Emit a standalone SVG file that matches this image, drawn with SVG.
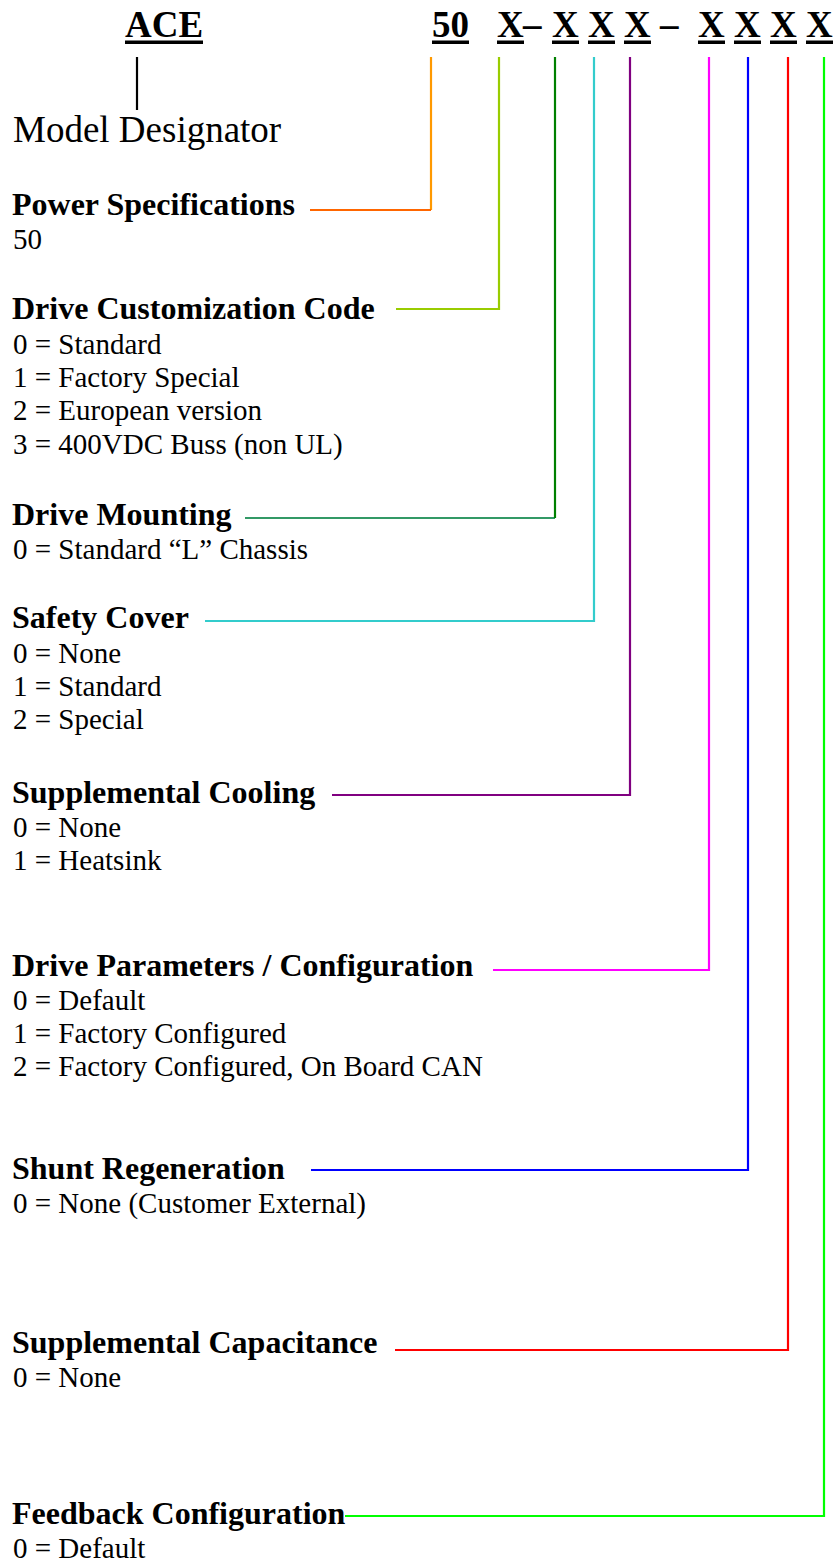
<svg xmlns="http://www.w3.org/2000/svg" width="837" height="1564" viewBox="0 0 837 1564">
<style>
.t{font-family:"Liberation Serif","Times New Roman",serif;font-weight:bold;font-size:37px;fill:#000}
.md{font-family:"Liberation Serif","Times New Roman",serif;font-size:37px;fill:#000}
.h{font-family:"Liberation Serif","Times New Roman",serif;font-weight:bold;font-size:32px;fill:#000}
.b{font-family:"Liberation Serif","Times New Roman",serif;font-size:29px;fill:#000}
.c{fill:none;stroke-width:2.2}
</style>
<rect width="837" height="1564" fill="#fff"/>
<g id="title">
<text class="t" x="125" y="37">ACE</text>
<rect x="125" y="40.5" width="78" height="3.5"/>
<text class="t" x="432" y="37">50</text>
<rect x="432" y="40.5" width="37" height="3.5"/>
<text class="t" x="497" y="37">X</text>
<rect x="497" y="40.5" width="27" height="3.5"/>
<text class="t" x="523" y="37">–</text>
<text class="t" x="552" y="37">X</text>
<rect x="552" y="40.5" width="27" height="3.5"/>
<text class="t" x="588" y="37">X</text>
<rect x="588" y="40.5" width="27" height="3.5"/>
<text class="t" x="624" y="37">X</text>
<rect x="624" y="40.5" width="27" height="3.5"/>
<text class="t" x="660" y="37">–</text>
<text class="t" x="698" y="37">X</text>
<rect x="698" y="40.5" width="27" height="3.5"/>
<text class="t" x="734" y="37">X</text>
<rect x="734" y="40.5" width="27" height="3.5"/>
<text class="t" x="770" y="37">X</text>
<rect x="770" y="40.5" width="27" height="3.5"/>
<text class="t" x="806" y="37">X</text>
<rect x="806" y="40.5" width="27" height="3.5"/>
</g>
<g id="model-designator">
<text class="md" x="13" y="142">Model Designator</text>
</g>
<g id="power">
<text class="h" x="12" y="215">Power Specifications</text>
<text class="b" x="13" y="249">50</text>
</g>
<g id="customization">
<text class="h" x="12" y="319">Drive Customization Code</text>
<text class="b" x="13" y="354">0 = Standard</text>
<text class="b" x="13" y="387">1 = Factory Special</text>
<text class="b" x="13" y="420">2 = European version</text>
<text class="b" x="13" y="454">3 = 400VDC Buss (non UL)</text>
</g>
<g id="mounting">
<text class="h" x="12" y="525">Drive Mounting</text>
<text class="b" x="13" y="559">0 = Standard “L” Chassis</text>
</g>
<g id="safety">
<text class="h" x="12" y="628">Safety Cover</text>
<text class="b" x="13" y="663">0 = None</text>
<text class="b" x="13" y="696">1 = Standard</text>
<text class="b" x="13" y="729">2 = Special</text>
</g>
<g id="cooling">
<text class="h" x="12" y="803">Supplemental Cooling</text>
<text class="b" x="13" y="837">0 = None</text>
<text class="b" x="13" y="870">1 = Heatsink</text>
</g>
<g id="parameters">
<text class="h" x="12" y="976">Drive Parameters / Configuration</text>
<text class="b" x="13" y="1010">0 = Default</text>
<text class="b" x="13" y="1043">1 = Factory Configured</text>
<text class="b" x="13" y="1076">2 = Factory Configured, On Board CAN</text>
</g>
<g id="shunt">
<text class="h" x="12" y="1179">Shunt Regeneration</text>
<text class="b" x="13" y="1213">0 = None (Customer External)</text>
</g>
<g id="capacitance">
<text class="h" x="12" y="1353">Supplemental Capacitance</text>
<text class="b" x="13" y="1387">0 = None</text>
</g>
<g id="feedback">
<text class="h" x="12" y="1524">Feedback Configuration</text>
<text class="b" x="13" y="1558">0 = Default</text>
</g>
<g id="connectors">
<line x1="137" y1="57" x2="137" y2="110" stroke="#000" stroke-width="2.2"/>
<path class="c" stroke="#FF9900" d="M431 57 V210"/>
<path class="c" stroke="#FF6600" d="M310 210 H431"/>
<path class="c" stroke="#99CC00" d="M396 309 H499 V57"/>
<path class="c" stroke="#339966" d="M245 518 H555"/>
<path class="c" stroke="#008000" d="M555 518 V57"/>
<path class="c" stroke="#33CCCC" d="M205 621 H594 V57"/>
<path class="c" stroke="#800080" d="M332 795 H630 V57"/>
<path class="c" stroke="#FF00FF" d="M493 970 H709 V57"/>
<path class="c" stroke="#0000FF" d="M311 1170 H748 V57"/>
<path class="c" stroke="#FF0000" d="M395 1350 H788 V57"/>
<path class="c" stroke="#00FF00" d="M345 1516 H824 V57"/>
</g>
</svg>
